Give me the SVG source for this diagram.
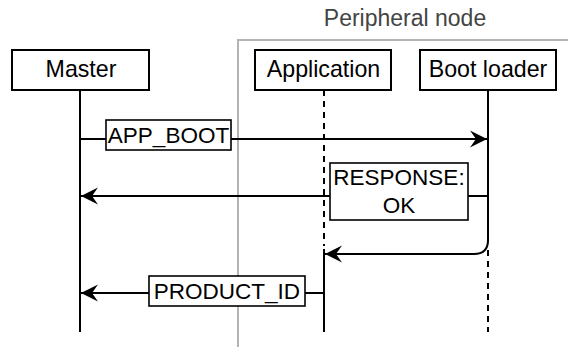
<svg xmlns="http://www.w3.org/2000/svg" width="568" height="347" viewBox="0 0 568 347">
<defs>
<style>
.box{fill:#fff;stroke:#000;stroke-width:2}
.lbl{fill:#fff;stroke:#000;stroke-width:1.6}
.t{font-family:"Liberation Sans",Arial,sans-serif;font-size:22.5px;fill:#000;text-anchor:middle}
.n{font-size:23.2px}
.line{fill:none;stroke:#000;stroke-width:2}
.dash{fill:none;stroke:#000;stroke-width:2;stroke-dasharray:6 5}
.grp{fill:none;stroke:#b3b3b3;stroke-width:2}
</style>
<marker id="arr" viewBox="0 0 18 18" refX="17" refY="9" markerWidth="18" markerHeight="18" markerUnits="userSpaceOnUse" orient="auto">
<path d="M17,9 L0,0.5 L6,9 L0,17.5 Z" fill="#000"/>
</marker>
</defs>
<g id="peripheral-node">
<path class="grp" d="M568,40 H238 V347"/>
<text class="t" x="405" y="26" style="fill:#444;font-size:23px">Peripheral node</text>
</g>
<g id="lifelines">
<path class="line" d="M80,90 V332"/>
<path class="dash" d="M324,90 V246"/>
<path class="line" d="M324,249 V332"/>
<path class="line" d="M488,90 V242"/>
<path class="dash" d="M488,250 V332"/>
</g>
<g id="connectors">
<path class="line" d="M80,139 H487" marker-end="url(#arr)"/>
<path class="line" d="M488,196 H81" marker-end="url(#arr)"/>
<path class="line" d="M488,240 Q488,254 474,254 H325" marker-end="url(#arr)"/>
<path class="line" d="M324,293 H81" marker-end="url(#arr)"/>
</g>
<g id="master">
<rect class="box" x="12" y="50" width="137" height="40"/>
<text class="t n" x="81" y="77">Master</text>
</g>
<g id="application">
<rect class="box" x="255" y="50" width="136" height="40"/>
<text class="t n" x="323.5" y="77">Application</text>
</g>
<g id="boot-loader">
<rect class="box" x="420" y="50" width="136" height="40"/>
<text class="t n" x="488" y="77">Boot loader</text>
</g>
<g id="label-app-boot">
<rect class="lbl" x="106" y="120" width="125" height="30"/>
<text class="t" x="168.5" y="143">APP_BOOT</text>
</g>
<g id="label-response">
<rect class="lbl" x="330" y="163" width="138" height="57"/>
<text class="t" x="399" y="185">RESPONSE:</text>
<text class="t" x="399" y="213">OK</text>
</g>
<g id="label-product-id">
<rect class="lbl" x="149" y="276" width="156" height="30"/>
<text class="t" x="227" y="299">PRODUCT_ID</text>
</g>
</svg>
